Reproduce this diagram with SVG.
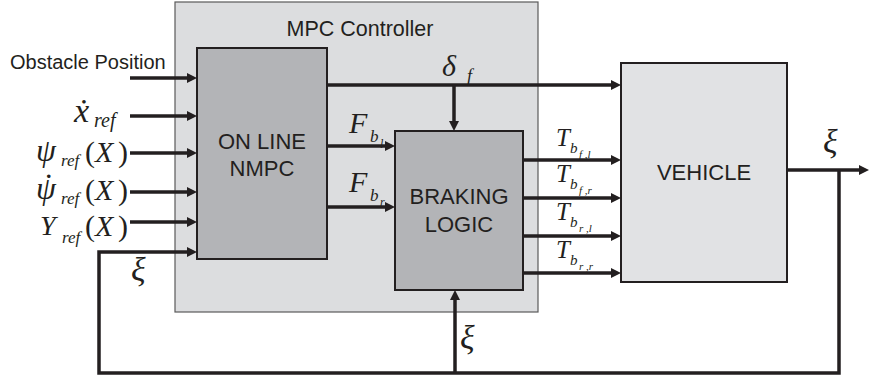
<svg xmlns="http://www.w3.org/2000/svg" width="870" height="377" viewBox="0 0 870 377">
<style>
.box{stroke:#231f20;stroke-width:2}
.lbl{font-family:"Liberation Sans",Arial,sans-serif;fill:#231f20;text-anchor:middle}
.m{font-family:"Liberation Serif","DejaVu Serif",serif;font-style:italic;fill:#231f20}
.r{font-family:"Liberation Serif","DejaVu Serif",serif;font-style:normal;fill:#231f20}
.c{fill:none;stroke:#231f20;stroke-width:3.5;stroke-linejoin:miter}
.a{marker-end:url(#ah)}
</style>
<defs>
<marker id="ah" markerUnits="userSpaceOnUse" markerWidth="10" markerHeight="10" refX="4" refY="5" orient="auto">
<path d="M0,0 L10,5 L0,10 z" fill="#231f20"/>
</marker>
</defs>
<rect width="870" height="377" fill="#ffffff"/>
<g id="mpc">
<rect x="175" y="2" width="363" height="310" fill="#dcdddf" stroke="#5a5a5a" stroke-width="1.2"/>
<text class="lbl" x="360" y="36" font-size="21.5">MPC Controller</text>
</g>
<g id="nmpc">
<rect class="box" x="197" y="48" width="130" height="211" fill="#b3b4b7"/>
<text class="lbl" x="262" y="149" font-size="22">ON LINE</text>
<text class="lbl" x="262" y="176" font-size="22">NMPC</text>
</g>
<g id="braking">
<rect class="box" x="395" y="131" width="128" height="159" fill="#b3b4b7"/>
<text class="lbl" x="459" y="204" font-size="22">BRAKING</text>
<text class="lbl" x="459" y="232" font-size="22">LOGIC</text>
</g>
<g id="vehicle">
<rect class="box" x="621" y="63" width="166" height="219" fill="#e1e2e4"/>
<text class="lbl" x="704" y="180" font-size="22">VEHICLE</text>
</g>
<g id="connectors">
<path class="c a" d="M130,78 H191"/>
<path class="c a" d="M130,116 H191"/>
<path class="c a" d="M130,153 H191"/>
<path class="c a" d="M130,192 H191"/>
<path class="c a" d="M130,222 H191"/>
<path class="c a" d="M839,170 V373 H99 V252 H191"/>
<path class="c a" d="M455,373 V296"/>
<path class="c a" d="M327,85 H615"/>
<path class="c a" d="M454,85 V125"/>
<path class="c a" d="M327,146 H389"/>
<path class="c a" d="M327,207 H389"/>
<path class="c a" d="M523,160 H615"/>
<path class="c a" d="M523,198 H615"/>
<path class="c a" d="M523,236 H615"/>
<path class="c a" d="M523,273 H615"/>
<path class="c a" d="M787,170 H863"/>
</g>
<g id="labels">
<text class="lbl" x="10" y="69" font-size="20" style="text-anchor:start">Obstacle Position</text>
<text class="m" x="74" y="122" font-size="34">&#7819;</text>
<text class="m" x="94" y="127" font-size="20">ref</text>
<text class="m" x="36" y="161" font-size="32">&#968;</text>
<text class="m" x="61" y="166" font-size="17">ref</text>
<text class="r" x="85" y="162" font-size="30">(</text>
<text class="m" x="95" y="162" font-size="30">X</text>
<text class="r" x="118" y="162" font-size="30">)</text>
<text class="r" x="46" y="178" font-size="22" style="font-weight:bold">.</text>
<text class="m" x="36" y="199" font-size="32">&#968;</text>
<text class="m" x="61" y="204" font-size="17">ref</text>
<text class="r" x="85" y="200" font-size="30">(</text>
<text class="m" x="95" y="200" font-size="30">X</text>
<text class="r" x="118" y="200" font-size="30">)</text>
<text class="m" x="40" y="235" font-size="28">Y</text>
<text class="m" x="62" y="243" font-size="17">ref</text>
<text class="r" x="85" y="236" font-size="30">(</text>
<text class="m" x="95" y="236" font-size="30">X</text>
<text class="r" x="118" y="236" font-size="30">)</text>
<text class="m" x="131" y="281" font-size="34">&#958;</text>
<text class="m" x="460" y="349" font-size="34">&#958;</text>
<text class="m" x="823" y="153" font-size="34">&#958;</text>
<text class="m" x="442" y="76" font-size="30">&#948;</text>
<text class="m" x="467" y="82" font-size="18">f</text>
<text class="m" x="349" y="133" font-size="30">F</text>
<text class="m" x="370" y="142" font-size="17">b</text>
<text class="m" x="380" y="148" font-size="12">l</text>
<text class="m" x="349" y="192" font-size="30">F</text>
<text class="m" x="370" y="201" font-size="17">b</text>
<text class="m" x="380" y="206" font-size="12">r</text>
<text class="m" x="556" y="146" font-size="25">T</text>
<text class="m" x="570" y="153" font-size="15">b</text>
<text class="m" x="579" y="158" font-size="11">f ,l</text>
<text class="m" x="556" y="182" font-size="25">T</text>
<text class="m" x="570" y="189" font-size="15">b</text>
<text class="m" x="579" y="194" font-size="11">f ,r</text>
<text class="m" x="556" y="220" font-size="25">T</text>
<text class="m" x="570" y="227" font-size="15">b</text>
<text class="m" x="579" y="232" font-size="11">r ,l</text>
<text class="m" x="556" y="258" font-size="25">T</text>
<text class="m" x="570" y="265" font-size="15">b</text>
<text class="m" x="579" y="270" font-size="11">r ,r</text>
</g>
</svg>
